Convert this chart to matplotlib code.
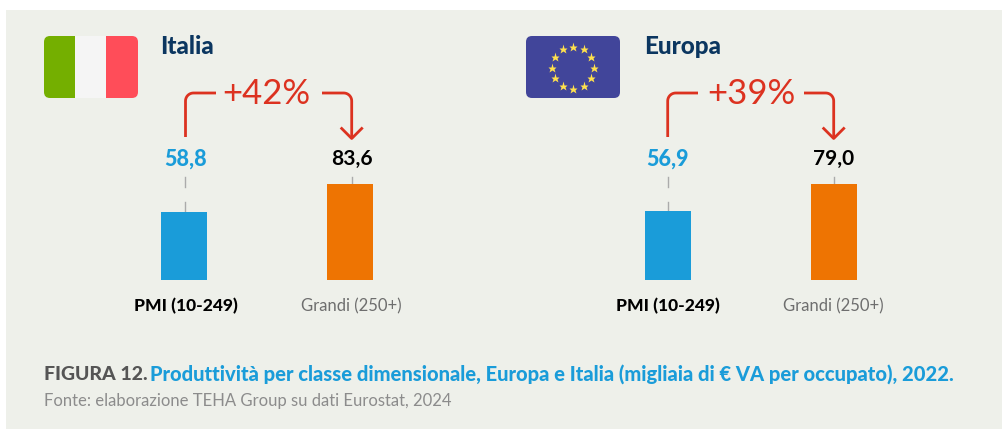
#!/usr/bin/env python3
"""Produttivita per classe dimensionale, Italia ed Europa"""

import numpy as np
import matplotlib
matplotlib.use('Agg')
import matplotlib.pyplot as plt
from matplotlib.patches import FancyBboxPatch, Rectangle

# Data
categories = ['PMI (10-249)', 'Grandi (250+)']
italia_values = [58.8, 83.6]
europa_values = [56.9, 79.0]
italia_labels = ['58,8', '83,6']
europa_labels = ['56,9', '79,0']
panel_names = ['Italia', 'Europa']
growth_labels = ['+42%', '+39%']

# Colors
BG = '#EEF0EA'
BLUE = '#1A9CD9'
ORANGE = '#EE7402'
RED = '#DC3220'
NAVY = '#0B3660'
GREY = '#6E6E6E'
LEADER = '#ABABAB'

plt.rcParams['font.family'] = ['Lato', 'DejaVu Sans']

W, H = 1002, 429
fig = plt.figure(figsize=(W / 100, H / 100), dpi=100, facecolor='white')

# Overlay in pixel coordinates for the decorations
bg = fig.add_axes([0, 0, 1, 1], zorder=0)
bg.set_xlim(0, W)
bg.set_ylim(H, 0)
bg.axis('off')
bg.add_patch(Rectangle((6, 10), W - 6, 419, facecolor=BG, edgecolor='none'))


def rounded_flag(x, y, w, h, color):
    patch = FancyBboxPatch((x + 6, y + 6), w - 12, h - 12, boxstyle='round,pad=6,rounding_size=6',
                           facecolor=color, edgecolor='none', zorder=2)
    bg.add_patch(patch)
    return patch


# Italian flag
clip = rounded_flag(44, 36, 94, 62, '#F5F5F5')
for x0, w0, c in [(44, 31, '#74AF00'), (106, 32, '#FF4D59')]:
    stripe = Rectangle((x0, 36), w0, 62, facecolor=c, edgecolor='none', zorder=3)
    bg.add_patch(stripe)
    stripe.set_clip_path(clip)

# EU flag
rounded_flag(526, 36, 94, 62, '#41459A')
angles = np.deg2rad(np.arange(0, 360, 30))
bg.plot(573.3 + 21 * np.cos(angles), 67.5 + 21 * np.sin(angles), ls='none', marker='*',
        ms=6.5, color='#FFE14D', mec='none', zorder=3)


def draw_panel(values, labels, name, growth, bar_cx, cx, title_x, text_x, right_start, left_end):
    # One axes per panel, bars share the same pixel height for the largest value
    left, right = bar_cx[0] - 83, bar_cx[1] + 83
    ax = fig.add_axes([left / W, 1 - 280 / H, (right - left) / W, 96 / H], zorder=1)
    ax.set_xlim(-0.5, 1.5)
    ax.set_ylim(0, max(values))
    ax.axis('off')
    ax.patch.set_alpha(0)
    ax.bar(range(2), values, width=46 / 166, color=[BLUE, ORANGE], edgecolor='none')

    tops = [280 - 96 * v / max(values) for v in values]

    # Leader lines, broken on the shorter bar
    bg.plot([cx[0], cx[0]], [177, 187], color=LEADER, lw=1)
    bg.plot([cx[0], cx[0]], [201.5, tops[0]], color=LEADER, lw=1)
    bg.plot([cx[1], cx[1]], [177, tops[1]], color=LEADER, lw=1)

    # Value labels
    bg.text(cx[0], 159, labels[0], color=BLUE, fontsize=15.5, fontweight='black', ha='center', va='center')
    bg.text(cx[1], 159, labels[1], color='black', fontsize=15, fontweight='bold', ha='center', va='center')

    # Category labels
    bg.text(cx[0], 306.5, categories[0], color='black', fontsize=12.5, fontweight='black', ha='center', va='center')
    bg.text(cx[1], 306.5, categories[1], color=GREY, fontsize=12, ha='center', va='center')

    # Panel title
    bg.text(title_x, 46.5, name, color=NAVY, fontsize=17.5, fontweight='black', ha='left', va='center')

    # Growth bracket and arrow
    r = 8
    t = np.linspace(np.pi, 1.5 * np.pi, 12)
    xs = np.r_[cx[0], cx[0] + r + r * np.cos(t), left_end]
    ys = np.r_[137, 93 + r + r * np.sin(t), 93]
    bg.plot(xs, ys, color=RED, lw=2, solid_capstyle='butt')
    t = np.linspace(1.5 * np.pi, 2 * np.pi, 12)
    xs = np.r_[right_start, cx[1] - r + r * np.cos(t), cx[1]]
    ys = np.r_[93, 93 + r + r * np.sin(t), 138]
    bg.plot(xs, ys, color=RED, lw=2, solid_capstyle='butt')
    bg.plot([cx[1] - 11, cx[1], cx[1] + 11], [127.5, 138.5, 127.5], color=RED, lw=2, solid_capstyle='butt')
    bg.text(text_x, 94.5, growth, color=RED, fontsize=25, ha='center', va='center')


draw_panel(italia_values, italia_labels, panel_names[0], growth_labels[0], [184, 350], [185.5, 351.7],
           160.5, 266.5, 322, 216)
draw_panel(europa_values, europa_labels, panel_names[1], growth_labels[1], [668, 834], [667.7, 833.7],
           644.5, 751, 804, 698)

# Caption
bg.text(44, 374, 'FIGURA 12.', color='#555555', fontsize=14, fontweight='black', ha='left', va='center')
bg.text(150, 374, 'Produttività per classe dimensionale, Europa e Italia (migliaia di € VA per occupato), 2022.',
        color=BLUE, fontsize=14.5, fontweight='black', ha='left', va='center')
bg.text(44, 401, 'Fonte: elaborazione TEHA Group su dati Eurostat, 2024', color='#8C8C8C', fontsize=11.95,
        ha='left', va='center')

plt.savefig('out.png', dpi=100, facecolor='white')
plt.close()
print("Saved: out.png")
